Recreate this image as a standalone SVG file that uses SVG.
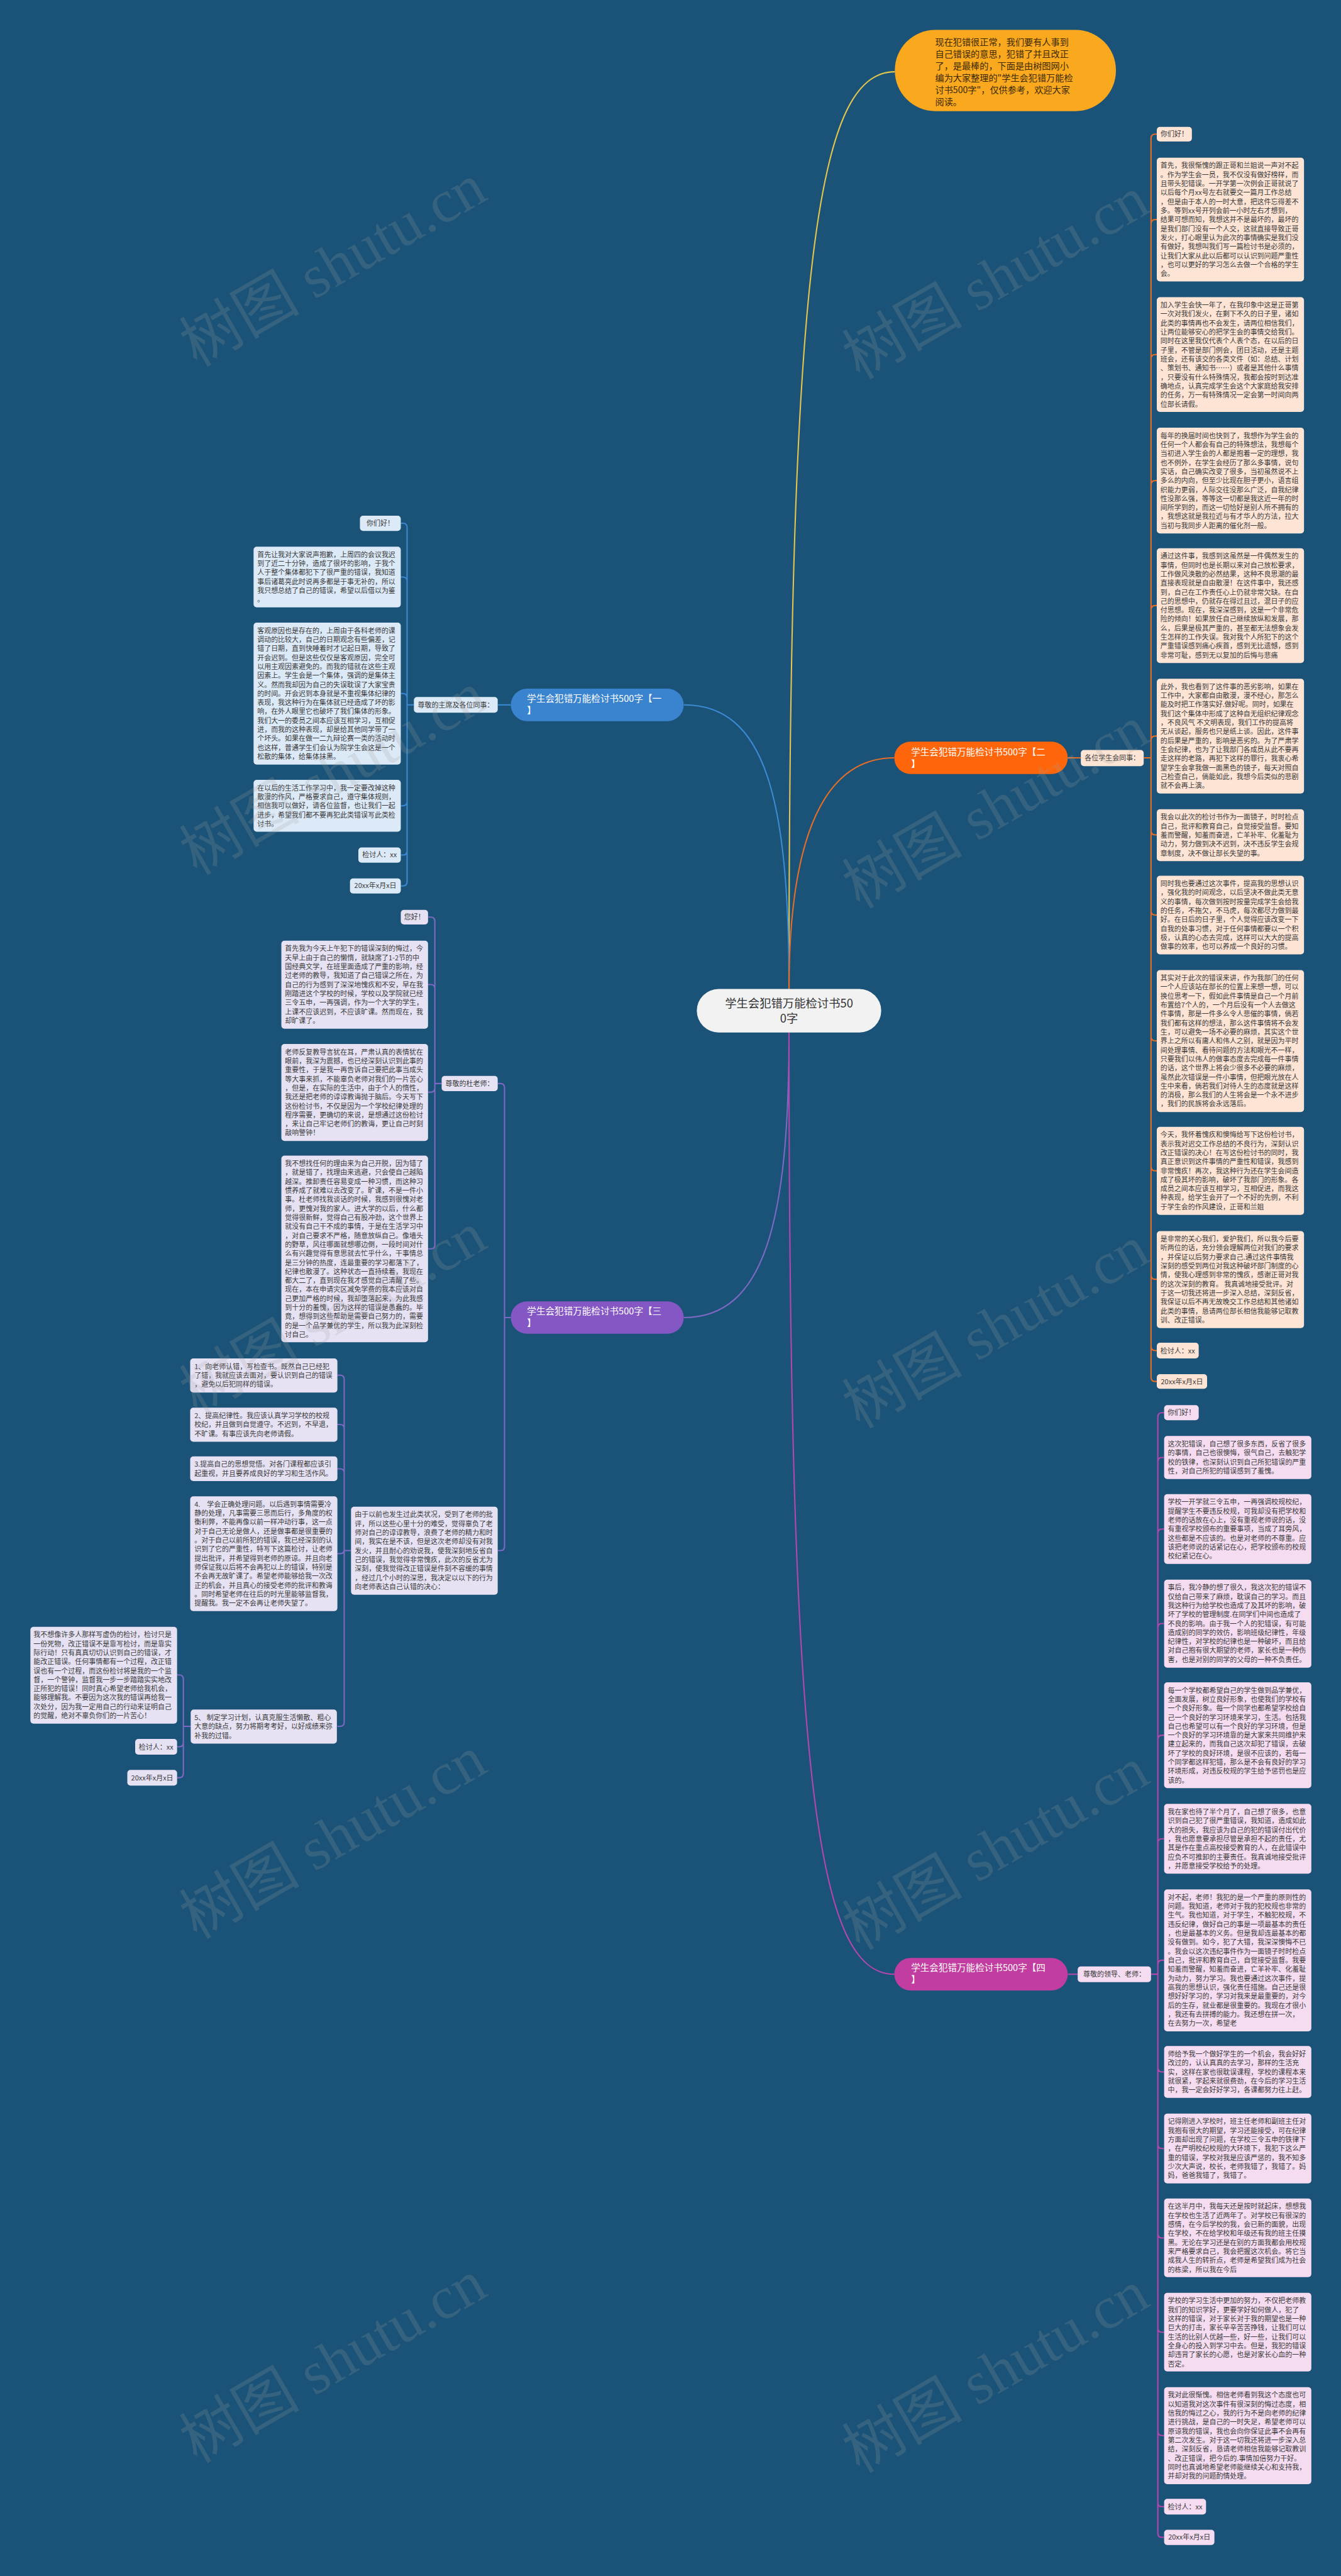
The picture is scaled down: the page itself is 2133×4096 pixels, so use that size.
<svg xmlns="http://www.w3.org/2000/svg" width="2133" height="4096" viewBox="0 0 2133 4096">
<style>
.p{font-family:"Noto Sans CJK SC","Noto Sans",sans-serif;font-size:13.2px;fill:#3a3a3a}
.m{text-anchor:middle}
.bn{font-family:"Noto Sans CJK SC","Noto Sans",sans-serif;font-size:17.5px;fill:#ffffff}
.cn{font-family:"Noto Sans CJK SC","Noto Sans",sans-serif;font-size:22px;fill:#333333;text-anchor:middle}
.intro{font-family:"Noto Sans CJK SC","Noto Sans",sans-serif;font-size:17px;fill:#3b2a05}
.c1{fill:#dce9f7}.c2{fill:#fde4d4}.c3{fill:#e6e2f4}.c4{fill:#f5dcf0}
.k{fill:none;stroke-width:2.5}
.k1{stroke:#3b8ad4}.k2{stroke:#e66e28}.k3{stroke:#7d69c3}.k4{stroke:#b446af}
.wm{font-family:"Liberation Serif","Noto Sans CJK SC",serif;font-size:115px;fill:#a2a2a2;fill-opacity:0.2;text-anchor:middle}
</style>
<rect width="2133" height="4096" fill="#1a5377"/>
<g transform="scale(0.833333)">
<g id="connectors">
<path class="k" stroke="#e2c64e" stroke-width="3" d="M1506,1887 C1506,500 1560,137 1708,137"/>
<path class="k k1" stroke-width="3" d="M1506,1887 C1506,1520 1460,1345 1305,1345"/>
<path class="k k2" stroke-width="3" d="M1506,1887 C1506,1680 1540,1446 1707,1446"/>
<path class="k k3" stroke-width="3" d="M1506,1970 C1506,2330 1460,2514 1305,2514"/>
<path class="k k4" stroke-width="3" d="M1506,1970 C1506,3400 1560,3767 1707,3767"/>
<path class="k k1" d="M975,1345H950"/>
<path class="k k1" d="M790,1345H777V1006.5Q777,998.5 769,998.5H765M790,1345H777V1109Q777,1101 769,1101H765M790,1345H777V1331.3Q777,1323.3 769,1323.3H765M790,1345H777V1529.5Q777,1537.5 769,1537.5H765M790,1345H777V1623.5Q777,1631.5 769,1631.5H765M790,1345H777V1682.5Q777,1690.5 769,1690.5H765"/>
<path class="k k2" d="M2038,1446H2063"/>
<path class="k k2" d="M2183,1446H2197V264Q2197,256 2205,256H2208M2197,1446V427Q2197,419 2205,419H2208M2197,1446V684.5Q2197,676.5 2205,676.5H2208M2197,1446V925Q2197,917 2205,917H2208M2197,1446V1163.5Q2197,1155.5 2205,1155.5H2208M2197,1446V1412.5Q2197,1404.5 2205,1404.5H2208M2197,1446V1585Q2197,1593 2205,1593H2208M2197,1446V1738Q2197,1746 2205,1746H2208M2197,1446V1978Q2197,1986 2205,1986H2208M2197,1446V2226Q2197,2234 2205,2234H2208M2197,1446V2433Q2197,2441 2205,2441H2208M2197,1446V2569Q2197,2577 2205,2577H2208M2197,1446V2628Q2197,2636 2205,2636H2208"/>
<path class="k k3" d="M975,2514H963V2075.5Q963,2067.5 955,2067.5H950M975,2514H963V2950.7Q963,2958.7 955,2958.7H950"/>
<path class="k k3" d="M843,2067.5H830V1758Q830,1750 822,1750H817M830,2067.5V1886.7Q830,1878.7 822,1878.7H817M830,2067.5V2076Q830,2084 822,2084H817M830,2067.5V2375Q830,2383 822,2383H817"/>
<path class="k k3" d="M670,2958.7H657V2632Q657,2624 649,2624H644M657,2958.7V2726Q657,2718 649,2718H644M657,2958.7V2810.7Q657,2802.7 649,2802.7H644M657,2958.7V2956.5Q657,2964.5 649,2964.5H644M657,2958.7V3286Q657,3294 649,3294H644"/>
<path class="k k3" d="M364,3294H350V3204Q350,3196 342,3196H338M350,3294V3325Q350,3333 342,3333H338M350,3294V3384Q350,3392 342,3392H338"/>
<path class="k k4" d="M2038,3767H2057"/>
<path class="k k4" d="M2197,3767H2210V2703.5Q2210,2695.5 2218,2695.5H2222M2210,3767V2789Q2210,2781 2218,2781H2222M2210,3767V2925.6Q2210,2917.6 2218,2917.6H2222M2210,3767V3105.8Q2210,3097.8 2218,3097.8H2222M2210,3767V3319Q2210,3311 2218,3311H2222M2210,3767V3516.6Q2210,3508.6 2218,3508.6H2222M2210,3767V3748.3Q2210,3740.3 2218,3740.3H2222M2210,3767V3945.4Q2210,3953.4 2218,3953.4H2222M2210,3767V4091.6Q2210,4099.6 2218,4099.6H2222M2210,3767V4262.2Q2210,4270.2 2218,4270.2H2222M2210,3767V4442.2Q2210,4450.2 2218,4450.2H2222M2210,3767V4639.3Q2210,4647.3 2218,4647.3H2222M2210,3767V4775Q2210,4783 2218,4783H2222M2210,3767V4833.5Q2210,4841.5 2218,4841.5H2222"/>
</g>

<g id="n-intro">
<rect x="1708" y="57" width="422" height="155" rx="77" fill="#faa81e"/>
<text class="intro" x="1785" y="86"><tspan x="1785">现在犯错很正常，我们要有人事到</tspan><tspan x="1785" dy="22.8">自己错误的意思，犯错了并且改正</tspan><tspan x="1785" dy="22.8">了，是最棒的，下面是由树图网小</tspan><tspan x="1785" dy="22.8">编为大家整理的"学生会犯错万能检</tspan><tspan x="1785" dy="22.8">讨书500字"，仅供参考，欢迎大家</tspan><tspan x="1785" dy="22.8">阅读。</tspan></text>
</g>

<g id="n-center">
<rect x="1330" y="1887" width="352" height="83" rx="41.5" fill="#f2f2f2"/>
<text class="cn" x="1506" y="1922"><tspan x="1506">学生会犯错万能检讨书50</tspan><tspan x="1506" dy="29">0字</tspan></text>
</g>

<g id="n-b1">
<rect x="975" y="1314" width="330" height="62" rx="31" fill="#3a84cf"/>
<text class="bn" x="1006" y="1339"><tspan x="1006">学生会犯错万能检讨书500字【一</tspan><tspan x="1006" dy="23">】</tspan></text>
</g>
<g id="n-b2">
<rect x="1707" y="1415" width="331" height="62" rx="31" fill="#ff660b"/>
<text class="bn" x="1739" y="1441"><tspan x="1739">学生会犯错万能检讨书500字【二</tspan><tspan x="1739" dy="23">】</tspan></text>
</g>
<g id="n-b3">
<rect x="975" y="2483" width="330" height="62" rx="31" fill="#8557c4"/>
<text class="bn" x="1006" y="2508"><tspan x="1006">学生会犯错万能检讨书500字【三</tspan><tspan x="1006" dy="23">】</tspan></text>
</g>
<g id="n-b4">
<rect x="1707" y="3736" width="331" height="62" rx="31" fill="#c13d9f"/>
<text class="bn" x="1739" y="3761"><tspan x="1739">学生会犯错万能检讨书500字【四</tspan><tspan x="1739" dy="23">】</tspan></text>
</g>

<g id="n-b1-label"><rect class="c1" x="790" y="1330" width="160" height="30" rx="6"/><text class="p m" x="870" y="1350">尊敬的主席及各位同事：</text></g>
<g id="n-b1-hi"><rect class="c1" x="687" y="984" width="78" height="29" rx="6"/><text class="p m" x="726" y="1003">你们好！</text></g>
<g id="n-b1-p1"><rect class="c1" x="484" y="1043" width="281" height="116" rx="6"/>
<text class="p" x="491" y="1063"><tspan x="491">首先让我对大家说声抱歉，上周四的会议我迟</tspan><tspan x="491" dy="17.17">到了近二十分钟，造成了很坏的影响，于我个</tspan><tspan x="491" dy="17.17">人于整个集体都犯下了很严重的错误，我知道</tspan><tspan x="491" dy="17.17">事后诸葛亮此时说再多都是于事无补的，所以</tspan><tspan x="491" dy="17.17">我只想总结了自己的错误，希望以后借以为鉴</tspan><tspan x="491" dy="17.17">。</tspan></text></g>
<g id="n-b1-p2"><rect class="c1" x="484" y="1188" width="281" height="271" rx="6"/>
<text class="p" x="491" y="1208"><tspan x="491">客观原因也是存在的，上周由于各科老师的课</tspan><tspan x="491" dy="17.17">调动的比较大，自己的日期观念有些偏差，记</tspan><tspan x="491" dy="17.17">错了日期，直到快睡着时才记起日期，导致了</tspan><tspan x="491" dy="17.17">开会迟到。但是这些仅仅是客观原因，完全可</tspan><tspan x="491" dy="17.17">以用主观因素避免的。而我的错就在这些主观</tspan><tspan x="491" dy="17.17">因素上。学生会是一个集体，强调的是集体主</tspan><tspan x="491" dy="17.17">义。然而我却因为自己的失误耽误了大家宝贵</tspan><tspan x="491" dy="17.17">的时间。开会迟到本身就是不重视集体纪律的</tspan><tspan x="491" dy="17.17">表现，我这种行为在集体就已经造成了坏的影</tspan><tspan x="491" dy="17.17">响，在外人眼里它也破坏了我们集体的形象。</tspan><tspan x="491" dy="17.17">我们大一的委员之间本应该互相学习，互相促</tspan><tspan x="491" dy="17.17">进，而我的这种表现，却是给其他同学带了一</tspan><tspan x="491" dy="17.17">个坏头。如果在做一二九辩论赛一类的活动时</tspan><tspan x="491" dy="17.17">也这样，普通学生们会认为院学生会这是一个</tspan><tspan x="491" dy="17.17">松散的集体，给集体抹黑。</tspan></text></g>
<g id="n-b1-p3"><rect class="c1" x="484" y="1488" width="281" height="99" rx="6"/>
<text class="p" x="491" y="1508"><tspan x="491">在以后的生活工作学习中，我一定要改掉这种</tspan><tspan x="491" dy="17.17">散漫的作风，严格要求自己，遵守集体规则，</tspan><tspan x="491" dy="17.17">相信我可以做好，请各位监督，也让我们一起</tspan><tspan x="491" dy="17.17">进步，希望我们都不要再犯此类错误写此类检</tspan><tspan x="491" dy="17.17">讨书。</tspan></text></g>
<g id="n-b1-sign"><rect class="c1" x="684" y="1617" width="81" height="29" rx="6"/><text class="p m" x="724.5" y="1636">检讨人：xx</text></g>
<g id="n-b1-date"><rect class="c1" x="668" y="1676" width="97" height="29" rx="6"/><text class="p m" x="716.5" y="1695">20xx年x月x日</text></g>

<g id="n-b2-label"><rect class="c2" x="2063" y="1431" width="120" height="31" rx="6"/><text class="p m" x="2123" y="1451">各位学生会同事：</text></g>
<g id="n-b2-hi"><rect class="c2" x="2208" y="242" width="67" height="28" rx="6"/><text class="p m" x="2241.5" y="261">你们好！</text></g>
<g id="n-b2-p1"><rect class="c2" x="2208" y="301" width="281" height="236" rx="6"/>
<text class="p" x="2215" y="321"><tspan x="2215">首先，我很惭愧的跟正哥和兰姐说一声对不起</tspan><tspan x="2215" dy="17.17">。作为学生会一员，我不仅没有做好榜样，而</tspan><tspan x="2215" dy="17.17">且带头犯错误。一开学第一次例会正哥就说了</tspan><tspan x="2215" dy="17.17">以后每个月xx号左右就要交一篇月工作总结</tspan><tspan x="2215" dy="17.17">，但是由于本人的一时大意，把这件忘得差不</tspan><tspan x="2215" dy="17.17">多。等到xx号开列会前一小时左右才想到，</tspan><tspan x="2215" dy="17.17">结果可想而知，我想这并不是最坏的，最坏的</tspan><tspan x="2215" dy="17.17">是我们部门没有一个人交，这就直接导致正哥</tspan><tspan x="2215" dy="17.17">发火，打心眼里认为此次的事情确实是我们没</tspan><tspan x="2215" dy="17.17">有做好，我想叫我们写一篇检讨书是必须的，</tspan><tspan x="2215" dy="17.17">让我们大家从此以后都可以认识到问题严重性</tspan><tspan x="2215" dy="17.17">，也可以更好的学习怎么去做一个合格的学生</tspan><tspan x="2215" dy="17.17">会。</tspan></text></g>
<g id="n-b2-p2"><rect class="c2" x="2208" y="567" width="281" height="219" rx="6"/>
<text class="p" x="2215" y="587"><tspan x="2215">加入学生会快一年了，在我印象中这是正哥第</tspan><tspan x="2215" dy="17.17">一次对我们发火，在剩下不久的日子里，诸如</tspan><tspan x="2215" dy="17.17">此类的事情再也不会发生，请两位相信我们，</tspan><tspan x="2215" dy="17.17">让两位能够安心的把学生会的事情交给我们。</tspan><tspan x="2215" dy="17.17">同时在这里我仅代表个人表个态，在以后的日</tspan><tspan x="2215" dy="17.17">子里，不管是部门例会，团日活动，还是主题</tspan><tspan x="2215" dy="17.17">班会，还有该交的各类文件（如：总结、计划</tspan><tspan x="2215" dy="17.17">、策划书、通知书……）或者是其他什么事情</tspan><tspan x="2215" dy="17.17">，只要没有什么特殊情况，我都会按时到达准</tspan><tspan x="2215" dy="17.17">确地点，认真完成学生会这个大家庭给我安排</tspan><tspan x="2215" dy="17.17">的任务，万一有特殊情况一定会第一时间向两</tspan><tspan x="2215" dy="17.17">位部长请假。</tspan></text></g>
<g id="n-b2-p3"><rect class="c2" x="2208" y="816" width="281" height="202" rx="6"/>
<text class="p" x="2215" y="836"><tspan x="2215">每年的换届时间也快到了，我想作为学生会的</tspan><tspan x="2215" dy="17.17">任何一个人都会有自己的特殊想法，我想每个</tspan><tspan x="2215" dy="17.17">当初进入学生会的人都是抱着一定的理想，我</tspan><tspan x="2215" dy="17.17">也不例外，在学生会经历了那么多事情，说句</tspan><tspan x="2215" dy="17.17">实话，自己确实改变了很多，当初虽然说不上</tspan><tspan x="2215" dy="17.17">多么的内向，但至少比现在胆子更小，语言组</tspan><tspan x="2215" dy="17.17">织能力更弱，人际交往没那么广泛，自我纪律</tspan><tspan x="2215" dy="17.17">性没那么强，等等这一切都是我这近一年的时</tspan><tspan x="2215" dy="17.17">间所学到的，而这一切恰好是别人所不拥有的</tspan><tspan x="2215" dy="17.17">，我想这就是我拉近与有才华人的方法，拉大</tspan><tspan x="2215" dy="17.17">当初与我同步人距离的催化剂一般。</tspan></text></g>
<g id="n-b2-p4"><rect class="c2" x="2208" y="1046" width="281" height="219" rx="6"/>
<text class="p" x="2215" y="1066"><tspan x="2215">通过这件事，我感到这虽然是一件偶然发生的</tspan><tspan x="2215" dy="17.17">事情，但同时也是长期以来对自己放松要求，</tspan><tspan x="2215" dy="17.17">工作做风涣散的必然结果，这种不良思潮的最</tspan><tspan x="2215" dy="17.17">直接表现就是自由散漫！在这件事中，我还感</tspan><tspan x="2215" dy="17.17">到，自己在工作责任心上仍就非常欠缺。在自</tspan><tspan x="2215" dy="17.17">己的思想中，仍就存在得过且过，混日子的应</tspan><tspan x="2215" dy="17.17">付思想。现在，我深深感到，这是一个非常危</tspan><tspan x="2215" dy="17.17">险的倾向！如果放任自己继续放纵和发展，那</tspan><tspan x="2215" dy="17.17">么，后果是极其严重的，甚至都无法想象会发</tspan><tspan x="2215" dy="17.17">生怎样的工作失误。我对我个人所犯下的这个</tspan><tspan x="2215" dy="17.17">严重错误感到痛心疾首，感到无比遗憾，感到</tspan><tspan x="2215" dy="17.17">非常可耻，感到无以复加的后悔与悲痛</tspan></text></g>
<g id="n-b2-p5"><rect class="c2" x="2208" y="1295" width="281" height="219" rx="6"/>
<text class="p" x="2215" y="1315"><tspan x="2215">此外，我也看到了这件事的恶劣影响，如果在</tspan><tspan x="2215" dy="17.17">工作中，大家都自由散漫，漫不经心，那怎么</tspan><tspan x="2215" dy="17.17">能及时把工作落实好.做好呢。同时，如果在</tspan><tspan x="2215" dy="17.17">我们这个集体中形成了这种自无组织纪律观念</tspan><tspan x="2215" dy="17.17">，不良风气 不文明表现，我们工作的提高将</tspan><tspan x="2215" dy="17.17">无从谈起，服务也只是纸上谈。因此，这件事</tspan><tspan x="2215" dy="17.17">的后果是严重的，影响是恶劣的。为了严肃学</tspan><tspan x="2215" dy="17.17">生会纪律，也为了让我部门各成员从此不要再</tspan><tspan x="2215" dy="17.17">走这样的老路，再犯下这样的罪行，我衷心希</tspan><tspan x="2215" dy="17.17">望学生会拿我做一面黑色的镜子，每天对照自</tspan><tspan x="2215" dy="17.17">己检查自己，倘能如此，我想今后类似的悲剧</tspan><tspan x="2215" dy="17.17">就不会再上演。</tspan></text></g>
<g id="n-b2-p6"><rect class="c2" x="2208" y="1544" width="281" height="99" rx="6"/>
<text class="p" x="2215" y="1564"><tspan x="2215">我会以此次的检讨书作为一面镜子，时时检点</tspan><tspan x="2215" dy="17.17">自己，批评和教育自己，自觉接受监督。要知</tspan><tspan x="2215" dy="17.17">羞而警醒，知羞而奋进，亡羊补牢、化羞耻为</tspan><tspan x="2215" dy="17.17">动力，努力做到决不迟到，决不违反学生会规</tspan><tspan x="2215" dy="17.17">章制度，决不做让部长失望的事。</tspan></text></g>
<g id="n-b2-p7"><rect class="c2" x="2208" y="1671" width="281" height="150" rx="6"/>
<text class="p" x="2215" y="1691"><tspan x="2215">同时我也要通过这次事件，提高我的思想认识</tspan><tspan x="2215" dy="17.17">，强化我的时间观念，以后坚决不做此类无意</tspan><tspan x="2215" dy="17.17">义的事情，每次做到按时按量完成学生会给我</tspan><tspan x="2215" dy="17.17">的任务，不拖欠，不马虎，每次都尽力做到最</tspan><tspan x="2215" dy="17.17">好。在日后的日子里，个人觉得应该改变一下</tspan><tspan x="2215" dy="17.17">自我的处事习惯，对于任何事情都要以一个积</tspan><tspan x="2215" dy="17.17">极，认真的心态去完成，这样可以大大的提高</tspan><tspan x="2215" dy="17.17">做事的效率，也可以养成一个良好的习惯。</tspan></text></g>
<g id="n-b2-p8"><rect class="c2" x="2208" y="1851" width="281" height="271" rx="6"/>
<text class="p" x="2215" y="1871"><tspan x="2215">其实对于此次的错误来讲，作为我部门的任何</tspan><tspan x="2215" dy="17.17">一个人应该站在部长的位置上来想一想，可以</tspan><tspan x="2215" dy="17.17">换位思考一下，假如此件事情是自己一个月前</tspan><tspan x="2215" dy="17.17">布置给7个人的，一个月后没有一个人去做这</tspan><tspan x="2215" dy="17.17">件事情，那是一件多么令人悲催的事情，倘若</tspan><tspan x="2215" dy="17.17">我们都有这样的想法，那么这件事情将不会发</tspan><tspan x="2215" dy="17.17">生，可以避免一场不必要的麻烦，其实这个世</tspan><tspan x="2215" dy="17.17">界上之所以有庸人和伟人之别，就是因为平时</tspan><tspan x="2215" dy="17.17">间处理事情、看待问题的方法和眼光不一样，</tspan><tspan x="2215" dy="17.17">只要我们以伟人的做事态度去完成每一件事情</tspan><tspan x="2215" dy="17.17">的话，这个世界上将会少很多不必要的麻烦，</tspan><tspan x="2215" dy="17.17">虽然此次错误是一件小事情，但把眼光放在人</tspan><tspan x="2215" dy="17.17">生中来看，倘若我们对待人生的态度就是这样</tspan><tspan x="2215" dy="17.17">的消极，那么我们的人生将会是一个永不进步</tspan><tspan x="2215" dy="17.17">，我们的民族将会永远落后。</tspan></text></g>
<g id="n-b2-p9"><rect class="c2" x="2208" y="2150" width="281" height="168" rx="6"/>
<text class="p" x="2215" y="2170"><tspan x="2215">今天，我怀着愧疚和懊悔给写下这份检讨书，</tspan><tspan x="2215" dy="17.17">表示我对迟交工作总结的不良行为，深刻认识</tspan><tspan x="2215" dy="17.17">改正错误的决心！在写这份检讨书的同时，我</tspan><tspan x="2215" dy="17.17">真正意识到这件事情的严重性和错误，我感到</tspan><tspan x="2215" dy="17.17">非常愧疚！再次，我这种行为还在学生会间造</tspan><tspan x="2215" dy="17.17">成了极其坏的影响，破坏了我部门的形象。各</tspan><tspan x="2215" dy="17.17">成员之间本应该互相学习，互相促进，而我这</tspan><tspan x="2215" dy="17.17">种表现，给学生会开了一个不好的先例，不利</tspan><tspan x="2215" dy="17.17">于学生会的作风建设，正哥和兰姐</tspan></text></g>
<g id="n-b2-p10"><rect class="c2" x="2208" y="2349" width="281" height="185" rx="6"/>
<text class="p" x="2215" y="2369"><tspan x="2215">是非常的关心我们，爱护我们，所以我今后要</tspan><tspan x="2215" dy="17.17">听两位的话，充分领会理解两位对我们的要求</tspan><tspan x="2215" dy="17.17">，并保证以后努力要求自己.通过这件事情我</tspan><tspan x="2215" dy="17.17">深刻的感受到两位对我这种破坏部门制度的心</tspan><tspan x="2215" dy="17.17">情，使我心理感到非常的愧疚，感谢正哥对我</tspan><tspan x="2215" dy="17.17">的这次深刻的教育。 我真诚地接受批评。对</tspan><tspan x="2215" dy="17.17">于这一切我还将进一步深入总结，深刻反省，</tspan><tspan x="2215" dy="17.17">我保证以后不再无故晚交工作总结和其他诸如</tspan><tspan x="2215" dy="17.17">此类的事情，恳请两位部长相信我能够记取教</tspan><tspan x="2215" dy="17.17">训、改正错误。</tspan></text></g>
<g id="n-b2-sign"><rect class="c2" x="2208" y="2562" width="80" height="30" rx="6"/><text class="p m" x="2248" y="2582">检讨人：xx</text></g>
<g id="n-b2-date"><rect class="c2" x="2208" y="2622" width="96" height="28" rx="6"/><text class="p m" x="2256" y="2641">20xx年x月x日</text></g>

<g id="n-b3-label"><rect class="c3" x="843" y="2053" width="107" height="29" rx="6"/><text class="p m" x="896.5" y="2072">尊敬的杜老师：</text></g>
<g id="n-b3-hi"><rect class="c3" x="765" y="1736" width="52" height="28" rx="6"/><text class="p m" x="791" y="1755">您好！</text></g>
<g id="n-b3-p1"><rect class="c3" x="537" y="1795" width="280" height="168" rx="6"/>
<text class="p" x="544" y="1815"><tspan x="544">首先我为今天上午犯下的错误深刻的悔过，今</tspan><tspan x="544" dy="17.17">天早上由于自己的懒惰，就缺席了1-2节的中</tspan><tspan x="544" dy="17.17">国经典文学，在班里面造成了严重的影响，经</tspan><tspan x="544" dy="17.17">过老师的教导，我知道了自己错误之所在，为</tspan><tspan x="544" dy="17.17">自己的行为感到了深深地愧疚和不安，早在我</tspan><tspan x="544" dy="17.17">刚踏进这个学校的时候，学校以及学院就已经</tspan><tspan x="544" dy="17.17">三令五申，一再强调，作为一个大学的学生，</tspan><tspan x="544" dy="17.17">上课不应该迟到，不应该旷课。然而现在，我</tspan><tspan x="544" dy="17.17">却旷课了。</tspan></text></g>
<g id="n-b3-p2"><rect class="c3" x="537" y="1992" width="280" height="185" rx="6"/>
<text class="p" x="544" y="2012"><tspan x="544">老师反复教导言犹在耳，严肃认真的表情犹在</tspan><tspan x="544" dy="17.17">眼前，我深为震撼，也已经深刻认识到此事的</tspan><tspan x="544" dy="17.17">重要性，于是我一再告诉自己要把此事当成头</tspan><tspan x="544" dy="17.17">等大事来抓，不能辜负老师对我们的一片苦心</tspan><tspan x="544" dy="17.17">，但是，在实际的生活中，由于个人的惰性，</tspan><tspan x="544" dy="17.17">我还是把老师的谆谆教诲抛于脑后。今天写下</tspan><tspan x="544" dy="17.17">这份检讨书，不仅是因为一个学校纪律处理的</tspan><tspan x="544" dy="17.17">程序需要，更确切的来说，是想通过这份检讨</tspan><tspan x="544" dy="17.17">，来让自己牢记老师们的教诲，更让自己时刻</tspan><tspan x="544" dy="17.17">敲响警钟！</tspan></text></g>
<g id="n-b3-p3"><rect class="c3" x="537" y="2205" width="280" height="356" rx="6"/>
<text class="p" x="544" y="2225"><tspan x="544">我不想找任何的理由来为自己开脱，因为错了</tspan><tspan x="544" dy="17.17">，就是错了，找理由来逃避，只会使自己越陷</tspan><tspan x="544" dy="17.17">越深。推卸责任容易变成一种习惯，而这种习</tspan><tspan x="544" dy="17.17">惯养成了就难以去改变了。旷课，不是一件小</tspan><tspan x="544" dy="17.17">事。杜老师找我谈话的时候，我感到很愧对老</tspan><tspan x="544" dy="17.17">师，更愧对我的家人。进大学的以后，什么都</tspan><tspan x="544" dy="17.17">觉得很新鲜，觉得自己有股冲劲，这个世界上</tspan><tspan x="544" dy="17.17">就没有自己干不成的事情，于是在生活学习中</tspan><tspan x="544" dy="17.17">，对自己要求不严格，随意放纵自己。像墙头</tspan><tspan x="544" dy="17.17">的野草，风往哪面就想哪边倒，一段时间对什</tspan><tspan x="544" dy="17.17">么有兴趣觉得有意思就去忙乎什么，干事情总</tspan><tspan x="544" dy="17.17">是三分钟的热度，连最重要的学习都落下了，</tspan><tspan x="544" dy="17.17">纪律也散漫了。这种状态一直持续着，我现在</tspan><tspan x="544" dy="17.17">都大二了，直到现在我才感觉自己清醒了些。</tspan><tspan x="544" dy="17.17">现在，本在申请灾区减免学费的我本应该对自</tspan><tspan x="544" dy="17.17">己更加严格的时候，我却堕落起来，为此我感</tspan><tspan x="544" dy="17.17">到十分的羞愧，因为这样的错误是愚蠢的。毕</tspan><tspan x="544" dy="17.17">竟，想得到这些帮助是需要自己努力的，需要</tspan><tspan x="544" dy="17.17">的是一个品学兼优的学生，所以我为此深刻检</tspan><tspan x="544" dy="17.17">讨自己。</tspan></text></g>
<g id="n-b3-reason"><rect class="c3" x="670" y="2875" width="280" height="168" rx="6"/>
<text class="p" x="677" y="2895"><tspan x="677">由于以前也发生过此类状况，受到了老师的批</tspan><tspan x="677" dy="17.17">评，所以这些心里十分的难受，觉得辜负了老</tspan><tspan x="677" dy="17.17">师对自己的谆谆教导，浪费了老师的精力和时</tspan><tspan x="677" dy="17.17">间，我实在是不该，但是这次老师却没有对我</tspan><tspan x="677" dy="17.17">发火，并且耐心的劝说我，使我深刻地反省自</tspan><tspan x="677" dy="17.17">己的错误，我觉得非常愧疚，此次的反省尤为</tspan><tspan x="677" dy="17.17">深刻，使我觉得改正错误是件刻不容缓的事情</tspan><tspan x="677" dy="17.17">，经过几个小时的深思，我决定以以下的行为</tspan><tspan x="677" dy="17.17">向老师表达自己认错的决心：</tspan></text></g>
<g id="n-b3-i1"><rect class="c3" x="363" y="2592" width="281" height="65" rx="6"/>
<text class="p" x="371" y="2612"><tspan x="371">1、向老师认错，写检查书。既然自己已经犯</tspan><tspan x="371" dy="17.17">了错，我就应该去面对，要认识到自己的错误</tspan><tspan x="371" dy="17.17">，避免以后犯同样的错误。</tspan></text></g>
<g id="n-b3-i2"><rect class="c3" x="363" y="2686" width="281" height="65" rx="6"/>
<text class="p" x="371" y="2706"><tspan x="371">2、提高纪律性。我应该认真学习学校的校规</tspan><tspan x="371" dy="17.17">校纪，并且做到自觉遵守。不迟到，不早退，</tspan><tspan x="371" dy="17.17">不旷课。有事应该先向老师请假。</tspan></text></g>
<g id="n-b3-i3"><rect class="c3" x="363" y="2779" width="281" height="47" rx="6"/>
<text class="p" x="371" y="2799"><tspan x="371">3.提高自己的思想觉悟。对各门课程都应该引</tspan><tspan x="371" dy="17.17">起重视，并且要养成良好的学习和生活作风。</tspan></text></g>
<g id="n-b3-i4"><rect class="c3" x="363" y="2855" width="281" height="219" rx="6"/>
<text class="p" x="371" y="2875"><tspan x="371">4.　学会正确处理问题。以后遇到事情需要冷</tspan><tspan x="371" dy="17.17">静的处理，凡事需要三思而后行，多角度的权</tspan><tspan x="371" dy="17.17">衡利弊，不能再像以前一样冲动行事，这一点</tspan><tspan x="371" dy="17.17">对于自己无论是做人，还是做事都是很重要的</tspan><tspan x="371" dy="17.17">。对于自己以前所犯的错误，我已经深刻的认</tspan><tspan x="371" dy="17.17">识到了它的严重性，特写下这篇检讨，让老师</tspan><tspan x="371" dy="17.17">提出批评，并希望得到老师的原谅。并且向老</tspan><tspan x="371" dy="17.17">师保证我以后将不会再犯以上的错误，特别是</tspan><tspan x="371" dy="17.17">不会再无故旷课了。希望老师能够给我一次改</tspan><tspan x="371" dy="17.17">正的机会，并且真心的接受老师的批评和教诲</tspan><tspan x="371" dy="17.17">。同时希望老师在往后的时光里能够监督我，</tspan><tspan x="371" dy="17.17">提醒我。我一定不会再让老师失望了。</tspan></text></g>
<g id="n-b3-i5"><rect class="c3" x="364" y="3262" width="279" height="65" rx="6"/>
<text class="p" x="371" y="3282"><tspan x="371">5、 制定学习计划，认真克服生活懒散、粗心</tspan><tspan x="371" dy="17.17">大意的缺点，努力将期考考好，以好成绩来弥</tspan><tspan x="371" dy="17.17">补我的过错。</tspan></text></g>
<g id="n-b3-w"><rect class="c3" x="58" y="3104" width="280" height="185" rx="6"/>
<text class="p" x="64" y="3124"><tspan x="64">我不想像许多人那样写虚伪的检讨，检讨只是</tspan><tspan x="64" dy="17.17">一份死物，改正错误不是靠写检讨，而是靠实</tspan><tspan x="64" dy="17.17">际行动！只有真真切切认识到自己的错误，才</tspan><tspan x="64" dy="17.17">能改正错误。任何事情都有一个过程，改正错</tspan><tspan x="64" dy="17.17">误也有一个过程，而这份检讨将是我的一个监</tspan><tspan x="64" dy="17.17">督，一个警钟，监督我一步一步踏踏实实地改</tspan><tspan x="64" dy="17.17">正所犯的错误！同时真心希望老师给我机会，</tspan><tspan x="64" dy="17.17">能够理解我。不要因为这次我的错误再给我一</tspan><tspan x="64" dy="17.17">次处分，因为我一定用自己的行动来证明自己</tspan><tspan x="64" dy="17.17">的觉醒，绝对不辜负你们的一片苦心！</tspan></text></g>
<g id="n-b3-sign"><rect class="c3" x="258" y="3318" width="80" height="30" rx="6"/><text class="p m" x="298" y="3338">检讨人：xx</text></g>
<g id="n-b3-date"><rect class="c3" x="243" y="3377" width="95" height="30" rx="6"/><text class="p m" x="290.5" y="3397">20xx年x月x日</text></g>

<g id="n-b4-label"><rect class="c4" x="2057" y="3752" width="140" height="30" rx="6"/><text class="p m" x="2127" y="3772">尊敬的领导、老师：</text></g>
<g id="n-b4-hi"><rect class="c4" x="2222" y="2681" width="66" height="29" rx="6"/><text class="p m" x="2255" y="2700">你们好！</text></g>
<g id="n-b4-p1"><rect class="c4" x="2222" y="2740" width="281" height="82" rx="6"/>
<text class="p" x="2229" y="2760"><tspan x="2229">这次犯错误，自己想了很多东西，反省了很多</tspan><tspan x="2229" dy="17.17">的事情，自己也很懊悔，很气自己，去触犯学</tspan><tspan x="2229" dy="17.17">校的铁律，也深刻认识到自己所犯错误的严重</tspan><tspan x="2229" dy="17.17">性，对自己所犯的错误感到了羞愧。</tspan></text></g>
<g id="n-b4-p2"><rect class="c4" x="2222" y="2851" width="281" height="133" rx="6"/>
<text class="p" x="2229" y="2871"><tspan x="2229">学校一开学就三令五申，一再强调校规校纪，</tspan><tspan x="2229" dy="17.17">提醒学生不要违反校规，可我却没有把学校和</tspan><tspan x="2229" dy="17.17">老师的话放在心上，没有重视老师说的话，没</tspan><tspan x="2229" dy="17.17">有重视学校颁布的重要事项，当成了耳旁风，</tspan><tspan x="2229" dy="17.17">这些都是不应该的。也是对老师的不尊重。应</tspan><tspan x="2229" dy="17.17">该把老师说的话紧记在心，把学校颁布的校规</tspan><tspan x="2229" dy="17.17">校纪紧记在心。</tspan></text></g>
<g id="n-b4-p3"><rect class="c4" x="2222" y="3014" width="281" height="168" rx="6"/>
<text class="p" x="2229" y="3034"><tspan x="2229">事后，我冷静的想了很久，我这次犯的错误不</tspan><tspan x="2229" dy="17.17">仅给自己带来了麻烦，耽误自己的学习。而且</tspan><tspan x="2229" dy="17.17">我这种行为给学校也造成了及其坏的影响，破</tspan><tspan x="2229" dy="17.17">坏了学校的管理制度.在同学们中间也造成了</tspan><tspan x="2229" dy="17.17">不良的影响。由于我一个人的犯错误，有可能</tspan><tspan x="2229" dy="17.17">造成别的同学的效仿，影响班级纪律性，年级</tspan><tspan x="2229" dy="17.17">纪律性，对学校的纪律也是一种破坏，而且给</tspan><tspan x="2229" dy="17.17">对自己抱有很大期望的老师，家长也是一种伤</tspan><tspan x="2229" dy="17.17">害，也是对别的同学的父母的一种不负责任。</tspan></text></g>
<g id="n-b4-p4"><rect class="c4" x="2222" y="3210" width="281" height="202" rx="6"/>
<text class="p" x="2229" y="3230"><tspan x="2229">每一个学校都希望自己的学生做到品学兼优，</tspan><tspan x="2229" dy="17.17">全面发展，树立良好形象，也使我们的学校有</tspan><tspan x="2229" dy="17.17">一个良好形象。每一个同学也都希望学校给自</tspan><tspan x="2229" dy="17.17">己一个良好的学习环境来学习，生活。包括我</tspan><tspan x="2229" dy="17.17">自己也希望可以有一个良好的学习环境，但是</tspan><tspan x="2229" dy="17.17">一个良好的学习环境靠的是大家来共同维护来</tspan><tspan x="2229" dy="17.17">建立起来的，而我自己这次却犯了错误，去破</tspan><tspan x="2229" dy="17.17">坏了学校的良好环境，是很不应该的，若每一</tspan><tspan x="2229" dy="17.17">个同学都这样犯错，那么是不会有良好的学习</tspan><tspan x="2229" dy="17.17">环境形成，对违反校规的学生给予惩罚也是应</tspan><tspan x="2229" dy="17.17">该的。</tspan></text></g>
<g id="n-b4-p5"><rect class="c4" x="2222" y="3442" width="281" height="133" rx="6"/>
<text class="p" x="2229" y="3462"><tspan x="2229">我在家也待了半个月了，自己想了很多，也意</tspan><tspan x="2229" dy="17.17">识到自己犯了很严重错误，我知道，造成如此</tspan><tspan x="2229" dy="17.17">大的损失，我应该为自己的犯的错误付出代价</tspan><tspan x="2229" dy="17.17">，我也愿意要承担尽管是承担不起的责任，尤</tspan><tspan x="2229" dy="17.17">其是作在重点高校接受教育的人，在此错误中</tspan><tspan x="2229" dy="17.17">应负不可推卸的主要责任。我真诚地接受批评</tspan><tspan x="2229" dy="17.17">，并愿意接受学校给予的处理。</tspan></text></g>
<g id="n-b4-p6"><rect class="c4" x="2222" y="3605" width="281" height="271" rx="6"/>
<text class="p" x="2229" y="3625"><tspan x="2229">对不起，老师！我犯的是一个严重的原则性的</tspan><tspan x="2229" dy="17.17">问题。我知道，老师对于我的犯校规也非常的</tspan><tspan x="2229" dy="17.17">生气。我也知道，对于学生，不触犯校规，不</tspan><tspan x="2229" dy="17.17">违反纪律，做好自己的事是一项最基本的责任</tspan><tspan x="2229" dy="17.17">，也是最基本的义务。但是我却连最基本的都</tspan><tspan x="2229" dy="17.17">没有做到。如今，犯了大错，我深深懊悔不已</tspan><tspan x="2229" dy="17.17">。我会以这次违纪事件作为一面镜子时时检点</tspan><tspan x="2229" dy="17.17">自己，批评和教育自己，自觉接受监督。我要</tspan><tspan x="2229" dy="17.17">知羞而警醒，知羞而奋进，亡羊补牢、化羞耻</tspan><tspan x="2229" dy="17.17">为动力，努力学习。我也要通过这次事件，提</tspan><tspan x="2229" dy="17.17">高我的思想认识，强化责任措施。自己还是很</tspan><tspan x="2229" dy="17.17">想好好学习的，学习对我来是最重要的，对今</tspan><tspan x="2229" dy="17.17">后的生存，就业都是很重要的。我现在才很小</tspan><tspan x="2229" dy="17.17">，我还有去拼搏的能力。我还想在拼一次，</tspan><tspan x="2229" dy="17.17">在去努力一次，希望老</tspan></text></g>
<g id="n-b4-p7"><rect class="c4" x="2222" y="3904" width="281" height="99" rx="6"/>
<text class="p" x="2229" y="3924"><tspan x="2229">师给予我一个做好学生的一个机会，我会好好</tspan><tspan x="2229" dy="17.17">改过的，认认真真的去学习，那样的生活充</tspan><tspan x="2229" dy="17.17">实，这样在家也很耽误课程，学校的课程本来</tspan><tspan x="2229" dy="17.17">就很紧，学起来就很费劲，在今后的学习生活</tspan><tspan x="2229" dy="17.17">中，我一定会好好学习，各课都努力往上赶。</tspan></text></g>
<g id="n-b4-p8"><rect class="c4" x="2222" y="4033" width="281" height="133" rx="6"/>
<text class="p" x="2229" y="4053"><tspan x="2229">记得刚进入学校时，班主任老师和副班主任对</tspan><tspan x="2229" dy="17.17">我抱有很大的期望，学习还能接受，可在纪律</tspan><tspan x="2229" dy="17.17">方面却出现了问题，在学校三令五申的铁律下</tspan><tspan x="2229" dy="17.17">，在严明校纪校规的大环境下，我犯下这么严</tspan><tspan x="2229" dy="17.17">重的错误，学校对我是应该严惩的，我不知多</tspan><tspan x="2229" dy="17.17">少次大声说，校长，老师我错了，我错了。妈</tspan><tspan x="2229" dy="17.17">妈，爸爸我错了，我错了。</tspan></text></g>
<g id="n-b4-p9"><rect class="c4" x="2222" y="4195" width="281" height="150" rx="6"/>
<text class="p" x="2229" y="4215"><tspan x="2229">在这半月中，我每天还是按时就起床，想想我</tspan><tspan x="2229" dy="17.17">在学校也生活了近两年了。对学校已有很深的</tspan><tspan x="2229" dy="17.17">感情，在今后学校的我，会已新的面貌，出现</tspan><tspan x="2229" dy="17.17">在学校，不在给学校和年级还有我的班主任摸</tspan><tspan x="2229" dy="17.17">黑。无论在学习还是在别的方面我都会用校规</tspan><tspan x="2229" dy="17.17">来严格要求自己，我会把握这次机会。将它当</tspan><tspan x="2229" dy="17.17">成我人生的转折点，老师是希望我们成为社会</tspan><tspan x="2229" dy="17.17">的栋梁，所以我在今后</tspan></text></g>
<g id="n-b4-p10"><rect class="c4" x="2222" y="4375" width="281" height="150" rx="6"/>
<text class="p" x="2229" y="4395"><tspan x="2229">学校的学习生活中更加的努力，不仅把老师教</tspan><tspan x="2229" dy="17.17">我们的知识学好，更要学好如何做人，犯了</tspan><tspan x="2229" dy="17.17">这样的错误，对于家长对于我的期望也是一种</tspan><tspan x="2229" dy="17.17">巨大的打击，家长辛辛苦苦挣钱，让我们可以</tspan><tspan x="2229" dy="17.17">生活的比别人优越一些，好一些，让我们可以</tspan><tspan x="2229" dy="17.17">全身心的投入到学习中去。但是，我犯的错误</tspan><tspan x="2229" dy="17.17">却违背了家长的心愿，也是对家长心血的一种</tspan><tspan x="2229" dy="17.17">否定。</tspan></text></g>
<g id="n-b4-p11"><rect class="c4" x="2222" y="4555" width="281" height="185" rx="6"/>
<text class="p" x="2229" y="4575"><tspan x="2229">我对此很惭愧。相信老师看到我这个态度也可</tspan><tspan x="2229" dy="17.17">以知道我对这次事件有很深刻的悔过态度，相</tspan><tspan x="2229" dy="17.17">信我的悔过之心，我的行为不是向老师的纪律</tspan><tspan x="2229" dy="17.17">进行挑战，是自己的一时失足，希望老师可以</tspan><tspan x="2229" dy="17.17">原谅我的错误，我也会向你保证此事不会再有</tspan><tspan x="2229" dy="17.17">第二次发生。对于这一切我还将进一步深入总</tspan><tspan x="2229" dy="17.17">结，深刻反省，恳请老师相信我能够记取教训</tspan><tspan x="2229" dy="17.17">、改正错误，把今后的.事情加倍努力干好。</tspan><tspan x="2229" dy="17.17">同时也真诚地希望老师能继续关心和支持我，</tspan><tspan x="2229" dy="17.17">并却对我的问题酌情处理。</tspan></text></g>
<g id="n-b4-sign"><rect class="c4" x="2222" y="4768" width="80" height="30" rx="6"/><text class="p m" x="2262" y="4788">检讨人：xx</text></g>
<g id="n-b4-date"><rect class="c4" x="2222" y="4827" width="96" height="29" rx="6"/><text class="p m" x="2270" y="4846">20xx年x月x日</text></g>

<g id="watermarks">
<text class="wm" transform="translate(655,540) rotate(-30)">树图 shutu.cn</text>
<text class="wm" transform="translate(655,1510) rotate(-30)">树图 shutu.cn</text>
<text class="wm" transform="translate(655,2540) rotate(-30)">树图 shutu.cn</text>
<text class="wm" transform="translate(655,3540) rotate(-30)">树图 shutu.cn</text>
<text class="wm" transform="translate(655,4540) rotate(-30)">树图 shutu.cn</text>
<text class="wm" transform="translate(1920,564) rotate(-30)">树图 shutu.cn</text>
<text class="wm" transform="translate(1920,1574) rotate(-30)">树图 shutu.cn</text>
<text class="wm" transform="translate(1920,2566) rotate(-30)">树图 shutu.cn</text>
<text class="wm" transform="translate(1920,3561) rotate(-30)">树图 shutu.cn</text>
<text class="wm" transform="translate(1920,4559) rotate(-30)">树图 shutu.cn</text>
</g>
</g>
</svg>
